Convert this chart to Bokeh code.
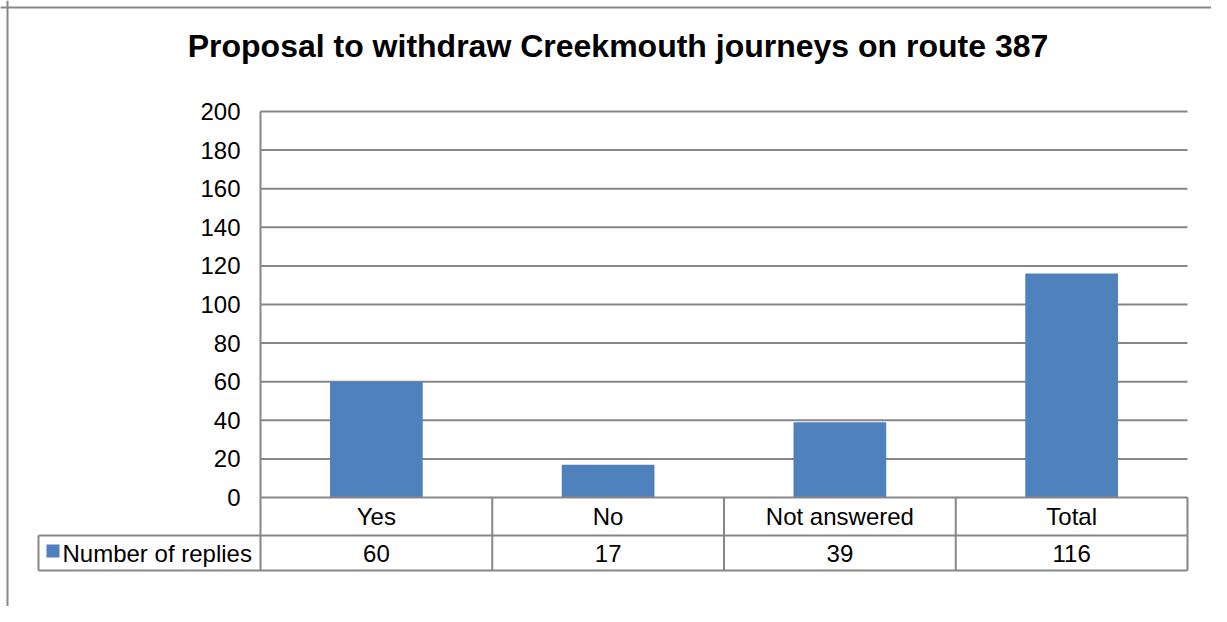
from bokeh.plotting import figure
from bokeh.models import Range1d, Span
from bokeh.core.properties import value
from bokeh.embed import file_html
from bokeh.resources import INLINE

# ---- data ----
title = "Proposal to withdraw Creekmouth journeys on route 387"
categories = ["Yes", "No", "Not answered", "Total"]
series_name = "Number of replies"
values = [60, 17, 39, 116]
y_ticks = [0, 20, 40, 60, 80, 100, 120, 140, 160, 180, 200]
y_tick_labels = [str(t) for t in y_ticks]

# ---- layout (pixels inside the figure canvas) ----
W, H = 1211, 606
PLOT_L, PLOT_R = 260, 1187
PLOT_T, PLOT_B = 111, 497
ROW1_PX, ROW2_PX = 38, 35
LEG_PX = 222
n = len(categories)
ymax = y_ticks[-1]
ppx = (PLOT_R - PLOT_L) / n
ppy = (PLOT_B - PLOT_T) / ymax
x_start = -PLOT_L / ppx
x_end = n + (W - PLOT_R) / ppx
y_start = -(H - PLOT_B) / ppy
y_end = ymax + PLOT_T / ppy
r1 = ROW1_PX / ppy
r2 = ROW2_PX / ppy
leg = LEG_PX / ppx

FONT = value("Liberation Sans")
GRID = "#878787"
BAR = "#4F81BD"

p = figure(width=W, height=H, output_backend="svg", toolbar_location=None,
           x_range=Range1d(x_start, x_end), y_range=Range1d(y_start, y_end),
           x_axis_location=None, y_axis_location=None, min_border=0,
           background_fill_color="white", border_fill_color="white")
p.outline_line_color = None
p.grid.visible = False

# gridlines
gy = y_ticks[1:]
p.segment(x0=[0] * len(gy), x1=[n] * len(gy), y0=gy, y1=gy,
          line_color=GRID, line_width=2)

# bars
xc = [i + 0.5 for i in range(n)]
p.vbar(x=xc, top=values, bottom=0, width=0.4, fill_color=BAR, line_color=None)

# table lines
hx0 = [0, -leg, -leg]
hx1 = [n, n, n]
hy = [0, -r1, -r1 - r2]
p.segment(x0=hx0, x1=hx1, y0=hy, y1=hy, line_color=GRID, line_width=2)
vx = [i for i in range(n + 1)] + [-leg]
vy0 = [ymax] + [0] * n + [-r1]
vy1 = [-r1 - r2] * (n + 1) + [-r1 - r2]
p.segment(x0=vx, x1=vx, y0=vy0, y1=vy1, line_color=GRID, line_width=2)

# y tick labels
p.text(x=[0] * len(y_ticks), y=y_ticks, text=y_tick_labels, x_offset=-20,
       text_align="right", text_baseline="middle", text_font=FONT,
       text_font_size="24px", text_color="black")

# category row
p.text(x=xc, y=[-r1 / 2] * n, text=categories, text_align="center",
       text_baseline="middle", text_font=FONT, text_font_size="24px",
       text_color="black")

# value row
p.text(x=xc, y=[-r1 - r2 / 2] * n, text=[str(v) for v in values],
       text_align="center", text_baseline="middle", text_font=FONT,
       text_font_size="24px", text_color="black")

# legend key in data table
p.scatter(x=[-leg + 14.5 / ppx], y=[-r1 - r2 / 2 + 2 / ppy], marker="square",
          size=13, fill_color=BAR, line_color=None)
p.text(x=[-leg + 24 / ppx], y=[-r1 - r2 / 2], text=[series_name],
       text_align="left", text_baseline="middle", text_font=FONT,
       text_font_size="24px", text_color="black")

# title
p.text(x=[(617.5 - PLOT_L) / ppx], y=[ymax + (PLOT_T - 45) / ppy], text=[title],
       text_align="center", text_baseline="middle", text_font=FONT,
       text_font_size="32px", text_font_style="bold", text_color="black")

# outer chart border (top and left visible)
p.add_layout(Span(location=x_start + 7 / ppx, dimension="height",
                  line_color=GRID, line_width=2))
p.add_layout(Span(location=y_end - 7 / ppy, dimension="width",
                  line_color=GRID, line_width=2))

open("out.html", "w").write(file_html(p, INLINE))
